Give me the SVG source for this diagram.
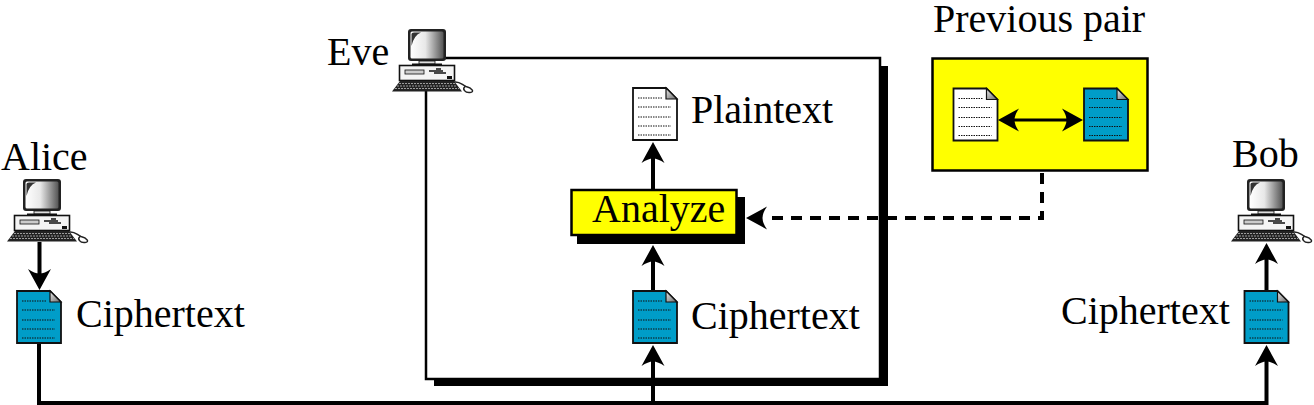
<svg xmlns="http://www.w3.org/2000/svg" width="1314" height="405" viewBox="0 0 1314 405">
<style>
text{font-family:"Liberation Serif","Times New Roman",serif;font-size:40px;fill:#000}
.ln{fill:none;stroke:#000;stroke-width:4}
.dl{fill:none;stroke:#000;stroke-width:4;stroke-dasharray:11 8}
.ah{fill:#000;stroke:none}
.dot{fill:none;stroke:#111;stroke-width:1;stroke-dasharray:1.5 1}
.pg{stroke:#111;stroke-width:1.8}
.b{fill:#009dc8}.w{fill:#fff}
</style>
<defs>
<linearGradient id="scr" x1="0" x2="1"><stop offset="0" stop-color="#fff"/><stop offset=".45" stop-color="#e8e8e8"/><stop offset="1" stop-color="#555"/></linearGradient>
<linearGradient id="fold" x1="0" y1="0" x2="1" y2="1"><stop offset="0" stop-color="#eee"/><stop offset="1" stop-color="#666"/></linearGradient>
<g id="pc">
<rect x="16" y="0" width="38" height="32" rx="3" fill="#222"/>
<rect x="18.500" y="2.500" width="33" height="27" rx="1.500" fill="url(#scr)"/>
<path d="M19.500 17V5Q19.500 3.500 22 3.500H29Q22 6 19.500 17Z" fill="#333"/>
<rect x="27" y="32" width="16" height="3" fill="#ddd" stroke="#111" stroke-width=".8"/>
<rect x="20" y="34.500" width="30" height="2" fill="#111"/>
<rect x="7.500" y="36.500" width="55" height="15" fill="#f4f4f4" stroke="#111" stroke-width="1.600"/>
<rect x="13" y="41" width="19" height="4" fill="#ccc" stroke="#111" stroke-width=".8"/>
<path d="M37 42h14M42 44h12M44 40h5" stroke="#111" stroke-width="1.500"/>
<rect x="55" y="47" width="5" height="3" fill="#111"/>
<path d="M8 52H62L70 62.500H0Z" fill="#222"/>
<path d="M7 54.500H63M5 57H65M3 59.500H67" stroke="#bbb" stroke-width=".8" stroke-dasharray="2 1"/>
<path d="M62 53C68 52 70 56 74 57.500C80 59 83 63 78 63.500C73 64 70 60 73 57.500" fill="none" stroke="#222" stroke-width="1.500"/>
</g>
<g id="lines">
<path class="dot" d="M5 10H30M5 19H38M5 29H38M5 38H38M5 47H38"/>
</g>
<g id="docb">
<path class="pg b" d="M0 0H33L44 11V52H0Z"/>
<path d="M33 0L44 11H33Z" fill="url(#fold)" stroke="#111" stroke-width="1.200"/>
<use href="#lines"/>
</g>
<g id="docw">
<path class="pg w" d="M0 0H33L44 11V52H0Z"/>
<path d="M33 0L44 11H33Z" fill="url(#fold)" stroke="#111" stroke-width="1.200"/>
<use href="#lines"/>
</g>
<path id="up" class="ah" d="M0 0L11.500 21Q5 16.500 0 16.500Q-5 16.500 -11.500 21Z"/>
</defs>
<rect width="1314" height="405" fill="#fff"/>

<g id="eve-window">
<path d="M434 378H879V66H888V386H434Z" fill="#000"/>
<rect x="426" y="58" width="454" height="321" fill="#fff" stroke="#000" stroke-width="2.500"/>
</g>

<g id="connectors">
<path class="ln" d="M39.500 242V275"/><use href="#up" transform="translate(39.500 290) scale(1 -1)"/>
<path class="ln" d="M39 344V403H1266.500V358"/>
<path class="ln" d="M653 403V358"/><use href="#up" x="653" y="345"/>
<use href="#up" x="1266.500" y="345"/>
<path class="ln" d="M653 290V258"/><use href="#up" x="653" y="245"/>
<path class="ln" d="M653 190V155"/><use href="#up" x="653" y="142"/>
<path class="ln" d="M1266.500 290V258"/><use href="#up" x="1266.500" y="243"/>
<path class="dl" d="M1042 173V218H765"/><use href="#up" transform="translate(746 218) rotate(-90)"/>
</g>

<g id="alice"><use href="#pc" x="7" y="179"/><text x="1" y="170">Alice</text></g>
<g id="alice-ciphertext"><use href="#docb" x="17" y="291"/><text x="76" y="327">Ciphertext</text></g>
<g id="eve"><use href="#pc" x="392" y="29"/><text x="327" y="65">Eve</text></g>
<g id="plaintext"><use href="#docw" x="633" y="88"/><text x="691" y="123">Plaintext</text></g>
<g id="analyze">
<rect x="577" y="197" width="168" height="47" fill="#000"/>
<rect x="571.500" y="190" width="165" height="45" fill="#ff0" stroke="#000" stroke-width="2.500"/>
<text x="592" y="222">Analyze</text>
</g>
<g id="eve-ciphertext"><use href="#docb" x="633" y="291"/><text x="691" y="329">Ciphertext</text></g>
<g id="previous-pair">
<text x="933" y="32">Previous pair</text>
<rect x="932.500" y="58.500" width="215" height="112" fill="#ff0" stroke="#000" stroke-width="2.500"/>
<use href="#docw" x="953.500" y="88.500"/>
<use href="#docb" x="1084" y="88.500"/>
<path d="M1010 120H1070" fill="none" stroke="#000" stroke-width="3"/>
<use href="#up" transform="translate(998 120) rotate(-90)"/>
<use href="#up" transform="translate(1083 120) rotate(90)"/>
</g>
<g id="bob"><use href="#pc" x="1231" y="179"/><text x="1232" y="167">Bob</text></g>
<g id="bob-ciphertext"><use href="#docb" x="1244.500" y="291"/><text x="1061" y="324">Ciphertext</text></g>
</svg>
